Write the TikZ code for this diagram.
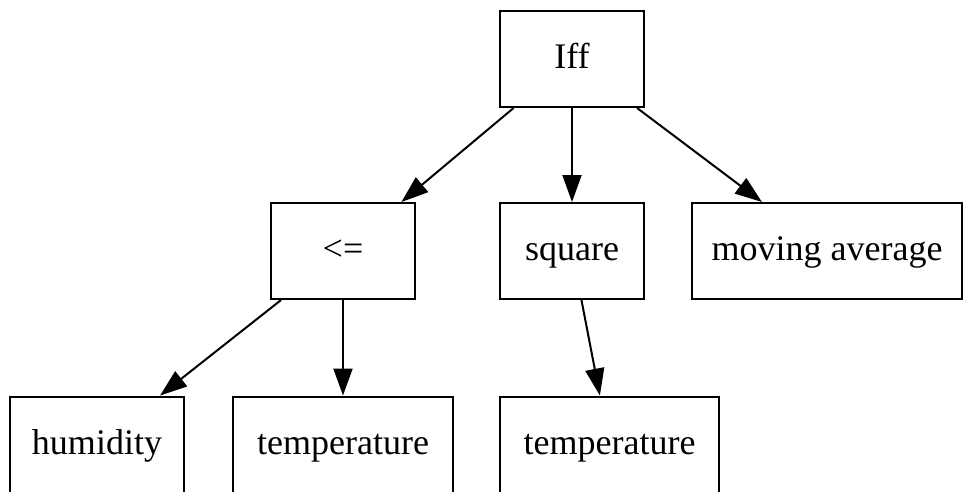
\documentclass[tikz,border=0pt]{standalone}
\usepackage{fontspec}
\setmainfont{Liberation Serif}
\usetikzlibrary{arrows.meta}
\begin{document}
\begin{tikzpicture}[x=1pt,y=-1pt,
  box/.style={draw=black,line width=2pt,rectangle,inner sep=0pt,
    minimum height=96pt,text height=24pt,text depth=6pt,
    font=\fontsize{36}{40}\selectfont},
  edge/.style={line width=2pt,-{Triangle[length=27pt,width=19pt]}}]
\useasboundingbox (0,0) rectangle (965,491);
\clip (0,0) rectangle (965,491);
\node[box,minimum width=144pt] (iff) at (572,59) {Iff};
\node[box,minimum width=144pt] (le) at (343,251) {<=};
\node[box,minimum width=144pt] (sq) at (572,251) {square};
\node[box,minimum width=270pt] (ma) at (827,251) {moving average};
\node[box,minimum width=174pt,minimum height=98pt] (hum) at (97,445.5) {humidity};
\node[box,minimum width=220pt,minimum height=98pt] (t1) at (343,445.5) {temperature};
\node[box,minimum width=219pt,minimum height=98pt] (t2) at (609.5,445.5) {temperature};
\draw[edge] (iff) -- (le);
\draw[edge] (iff) -- (sq);
\draw[edge] (iff) -- (ma);
\draw[edge] (le) -- (hum);
\draw[edge] (le) -- (t1);
\draw[edge] (sq) -- (t2);
\end{tikzpicture}
\end{document}
